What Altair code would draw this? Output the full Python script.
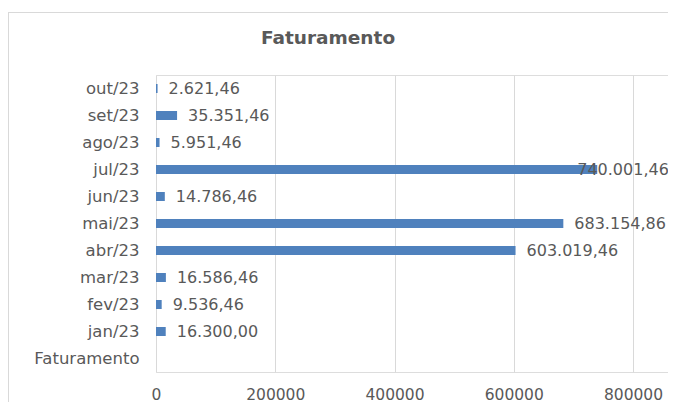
import altair as alt
import pandas as pd

months = ["jan/23", "fev/23", "mar/23", "abr/23", "mai/23", "jun/23",
          "jul/23", "ago/23", "set/23", "out/23"]
values = [16300.00, 9536.46, 16586.46, 603019.46, 683154.86, 14786.46,
          740001.46, 5951.46, 35351.46, 2621.46]
categories = ["Faturamento"] + months          # bottom to top
x_ticks = [0, 200000, 400000, 600000, 800000]
title_text = "Faturamento"

df = pd.DataFrame({"mes": months, "valor": values})

FONT = "DejaVu Sans"
GRAY = "#595959"
order = list(reversed(categories))

x_enc = alt.X("valor:Q",
              scale=alt.Scale(domain=[0, 858700], nice=False, zero=True),
              axis=alt.Axis(values=x_ticks, format="d", title=None, grid=True,
                            gridColor="#d9d9d9", domain=False, ticks=False,
                            labelFont=FONT, labelFontSize=15.5, labelColor=GRAY,
                            labelPadding=15, labelBaseline="top", labelFlush=False))
y_enc = alt.Y("mes:N", sort=order,
              scale=alt.Scale(domain=order),
              axis=alt.Axis(title=None, domain=False, ticks=False,
                            labelFont=FONT, labelFontSize=16.5, labelColor=GRAY,
                            labelPadding=17))

base = alt.Chart(df)

frame = base.mark_rect(fill=None, stroke="#d9d9d9", strokeWidth=1).encode(
    x=alt.value(-147.5), x2=alt.value(700), y=alt.value(-62.5), y2=alt.value(400)
)

title = alt.Chart(pd.DataFrame({"t": [title_text]})).mark_text(
    align="center", baseline="middle", font=FONT, fontSize=18.5,
    fontWeight="bold", color=GRAY
).encode(text="t:N", x=alt.value(172), y=alt.value(-37))

bars = base.mark_bar(size=9, color="#4F81BD").encode(x=x_enc, y=y_enc)

labels_main = base.transform_filter(alt.datum.mes != "jul/23").mark_text(
    align="left", baseline="middle", dx=11, font=FONT, fontSize=16, color=GRAY
).encode(x="valor:Q", y=alt.Y("mes:N", sort=order),
         text=alt.Text("valor:Q", format=",.2f"))

labels_jul = base.transform_filter(alt.datum.mes == "jul/23").mark_text(
    align="left", baseline="middle", dx=-20, font=FONT, fontSize=16, color=GRAY
).encode(x="valor:Q", y=alt.Y("mes:N", sort=order),
         text=alt.Text("valor:Q", format=",.2f"))

chart = alt.layer(frame, bars, labels_main, labels_jul, title).properties(
    width=512, height=297,
    autosize=alt.AutoSizeParams(type="none"),
    padding={"left": 148, "top": 67, "right": 0, "bottom": 30},
).configure_view(stroke=None).configure(
    locale={"number": {"decimal": ",", "thousands": ".", "grouping": [3],
                       "currency": ["R$", ""]}}
)

chart.save("out.html", embed_options={"renderer": "svg", "actions": False})
